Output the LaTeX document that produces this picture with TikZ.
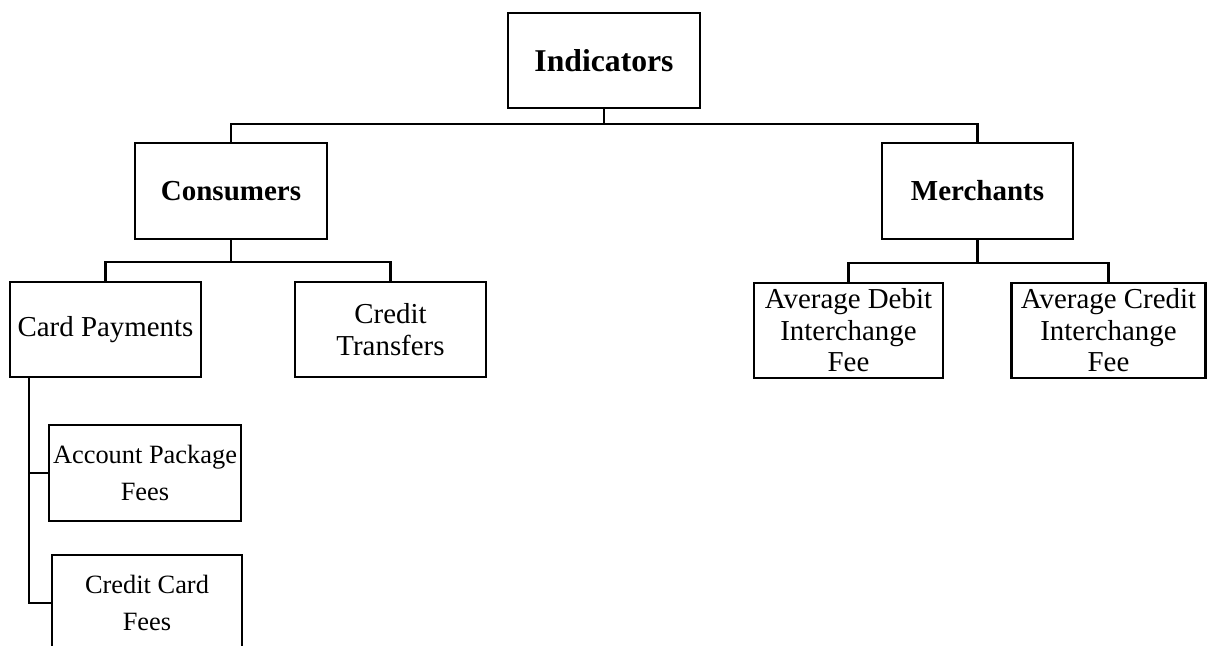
\documentclass[tikz,border=0pt]{standalone}
\usepackage{fontspec}
\setmainfont{Liberation Serif}
\begin{document}
\begin{tikzpicture}[x=1pt,y=-1pt,
  box/.style={draw=black,line width=2.6pt,fill=white,inner sep=0pt,align=center,anchor=center},
  topbox/.style={box,font=\fontsize{31.7}{38}\selectfont\bfseries},
  midbox/.style={box,font=\fontsize{29}{34}\selectfont\bfseries},
  lvbox/.style={box,font=\fontsize{28.9}{31.5}\selectfont},
  subbox/.style={box,font=\fontsize{26.4}{37}\selectfont},
  conn/.style={draw=black,line width=2.6pt}]
\useasboundingbox (0,0) rectangle (1207,645);
\node[topbox,minimum width=192pt,minimum height=95pt] (ind) at (604,60.5) {Indicators};
\node[midbox,minimum width=192pt,minimum height=96pt] (con) at (231,191) {Consumers};
\node[midbox,minimum width=191pt,minimum height=96pt] (mer) at (977.5,191) {Merchants};
\node[lvbox,minimum width=191pt,minimum height=95pt] (card) at (105.5,329.5) {Card Payments};
\node[lvbox,minimum width=191pt,minimum height=95pt] (ct) at (390.5,329.5) {Credit\\Transfers};
\node[lvbox,minimum width=189pt,minimum height=95pt] (ad) at (848.5,330.5) {Average Debit\\Interchange\\Fee};
\node[lvbox,minimum width=194pt,minimum height=95pt] (ac) at (1108.5,330.5) {Average Credit\\Interchange\\Fee};
\node[subbox,minimum width=192pt,minimum height=96pt] (ap) at (145,473) {Account Package\\Fees};
\node[subbox,minimum width=190pt,minimum height=96pt] (cc) at (147,603) {Credit Card\\Fees};
\coordinate (j1) at (604,124);
\coordinate (j2) at (231,262);
\coordinate (j3) at (977.5,263);
\coordinate (v) at (29,0);
\draw[conn] (ind.south) -- (j1);
\draw[conn] (con.north) |- (j1) -| (mer.north);
\draw[conn] (con.south) -- (j2);
\draw[conn] (card.north) |- (j2) -| (ct.north);
\draw[conn] (mer.south) -- (j3);
\draw[conn] (ad.north) |- (j3) -| (ac.north);
\draw[conn] (card.south -| v) |- (ap.west);
\draw[conn] (card.south -| v) |- (cc.west);
\end{tikzpicture}
\end{document}
